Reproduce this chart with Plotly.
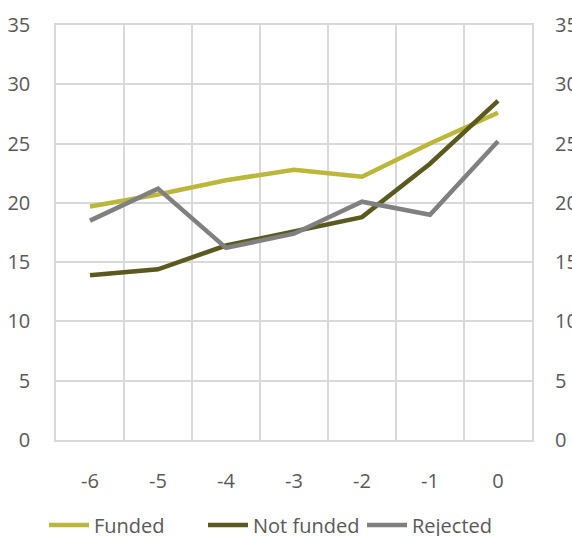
import plotly.graph_objects as go

years = [-6, -5, -4, -3, -2, -1, 0]
funded = [19.7, 20.7, 21.9, 22.8, 22.2, 25.0, 27.6]
not_funded = [13.9, 14.4, 16.4, 17.6, 18.8, 23.3, 28.6]
rejected = [18.5, 21.2, 16.2, 17.4, 20.1, 19.0, 25.2]
y_ticks = [0, 5, 10, 15, 20, 25, 30, 35]

font_family = "Open Sans"
text_color = "#595959"
grid_color = "#D9D9D9"

fig = go.Figure()
series = [
    ("Funded", funded, "#BBB73A"),
    ("Not funded", not_funded, "#5A5A1E"),
    ("Rejected", rejected, "#808080"),
]
for name, vals, color in series:
    fig.add_trace(go.Scatter(
        x=years, y=vals, name=name, mode="lines",
        line=dict(color=color, width=4.5),
    ))

# secondary axis mirrors the same scale on the right
fig.add_trace(go.Scatter(
    x=years, y=funded, yaxis="y2", mode="lines",
    line=dict(width=0), showlegend=False, hoverinfo="skip",
))

fig.update_layout(
    width=572, height=536,
    margin=dict(l=56, r=40, t=25, b=96),
    paper_bgcolor="white", plot_bgcolor="white",
    font=dict(family=font_family, size=20, color=text_color),
    xaxis=dict(
        range=[-6.5, 0.5], tickvals=years, ticktext=[str(v) for v in years],
        showgrid=False, zeroline=False, ticks="", automargin=False,
        showline=True, linecolor=grid_color, linewidth=1.5, mirror=True,
        ticklabelstandoff=22,
        minor=dict(tickvals=[v + 0.5 for v in range(-7, 1)], showgrid=True,
                   gridcolor=grid_color, gridwidth=1.5, ticks=""),
    ),
    yaxis=dict(
        range=[0, 35], tickvals=y_ticks, showgrid=True, gridcolor=grid_color,
        gridwidth=1.5, zeroline=False, ticks="", automargin=False,
        showline=True, linecolor=grid_color, linewidth=1.5, mirror=True,
        ticklabelstandoff=20,
    ),
    yaxis2=dict(
        range=[0, 35], tickvals=y_ticks, overlaying="y", side="right",
        showgrid=False, zeroline=False, showline=False, ticks="",
        automargin=False, ticklabelstandoff=22,
    ),
    legend=dict(
        orientation="h", xref="container", yref="container",
        x=44 / 572, xanchor="left", y=11 / 536, yanchor="middle",
        font=dict(size=20, color=text_color), itemwidth=40,
        entrywidth=104, entrywidthmode="pixels",
        traceorder="normal",
    ),
    showlegend=True,
)

fig.write_html("out.html")
